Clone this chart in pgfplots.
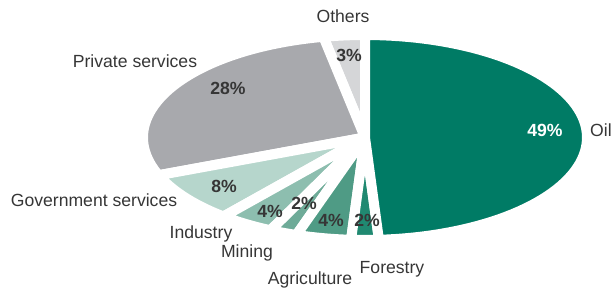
\documentclass[border=0pt]{standalone}
\usepackage{pgfplots}
\pgfplotsset{compat=1.18}
\usepackage{fontspec}
\setmainfont{Liberation Sans}
\definecolor{oilc}{HTML}{007B65}
\definecolor{othc}{HTML}{D5D6D8}
\definecolor{privc}{HTML}{A8A9AD}
\definecolor{govc}{HTML}{B6D6CC}
\definecolor{indc}{HTML}{8DBEAF}
\definecolor{minc}{HTML}{6EAB98}
\definecolor{agrc}{HTML}{4F9B85}
\definecolor{forc}{HTML}{208971}
\definecolor{txt}{HTML}{363636}
\gdef\cum{0}
\newcommand\slice[2]{%
  \pgfmathsetmacro\sa{90+3.6*\cum}%
  \pgfmathsetmacro\sb{90+3.6*(\cum+#1)}%
  \pgfmathsetmacro\newcum{\cum+#1}\global\let\cum\newcum
  \edef\doplot{\noexpand\addplot[fill=#2, draw=white, line width=10pt, line join=round, domain=\sa:\sb, samples=80] ({365+222*cos(x)},{137.5-102.5*sin(x)}) -- (axis cs:365,137.5) -- cycle;}%
  \doplot}
\begin{document}
\begin{tikzpicture}
\begin{axis}[width=614pt,height=294pt,scale only axis,
  xmin=0,xmax=614,ymin=0,ymax=294,y dir=reverse,hide axis,clip=false]
\path (rel axis cs:0,0) rectangle (rel axis cs:1,1);
% shares in percent, counter-clockwise from the top
\slice{3}{othc}   % Others
\slice{28}{privc} % Private services
\slice{8}{govc}   % Government services
\slice{4}{indc}   % Industry
\slice{2}{minc}   % Mining
\slice{4}{agrc}   % Agriculture
\slice{2}{forc}   % Forestry
\slice{49}{oilc}  % Oil
\begin{scope}[every node/.style={font=\fontsize{17.6}{20}\selectfont,text=txt,inner sep=0pt}]
\node at (axis cs:343,16) {Others};
\node at (axis cs:135,61) {Private services};
\node at (axis cs:601,130) {Oil};
\node at (axis cs:94,200) {Government services};
\node at (axis cs:201,234) {Industry};
\node at (axis cs:247,253) {Mining};
\node at (axis cs:310,280) {Agriculture};
\node at (axis cs:392,269) {Forestry};
\end{scope}
\begin{scope}[every node/.style={font=\fontsize{17.6}{20}\selectfont\bfseries,text=txt,inner sep=0pt}]
\node at (axis cs:349,55) {3\%};
\node at (axis cs:228,88) {28\%};
\node[text=white] at (axis cs:545,130) {49\%};
\node at (axis cs:224,186) {8\%};
\node at (axis cs:270,211) {4\%};
\node at (axis cs:304,203) {2\%};
\node at (axis cs:331,220) {4\%};
\node at (axis cs:367,220) {2\%};
\end{scope}
\end{axis}
\end{tikzpicture}
\end{document}
